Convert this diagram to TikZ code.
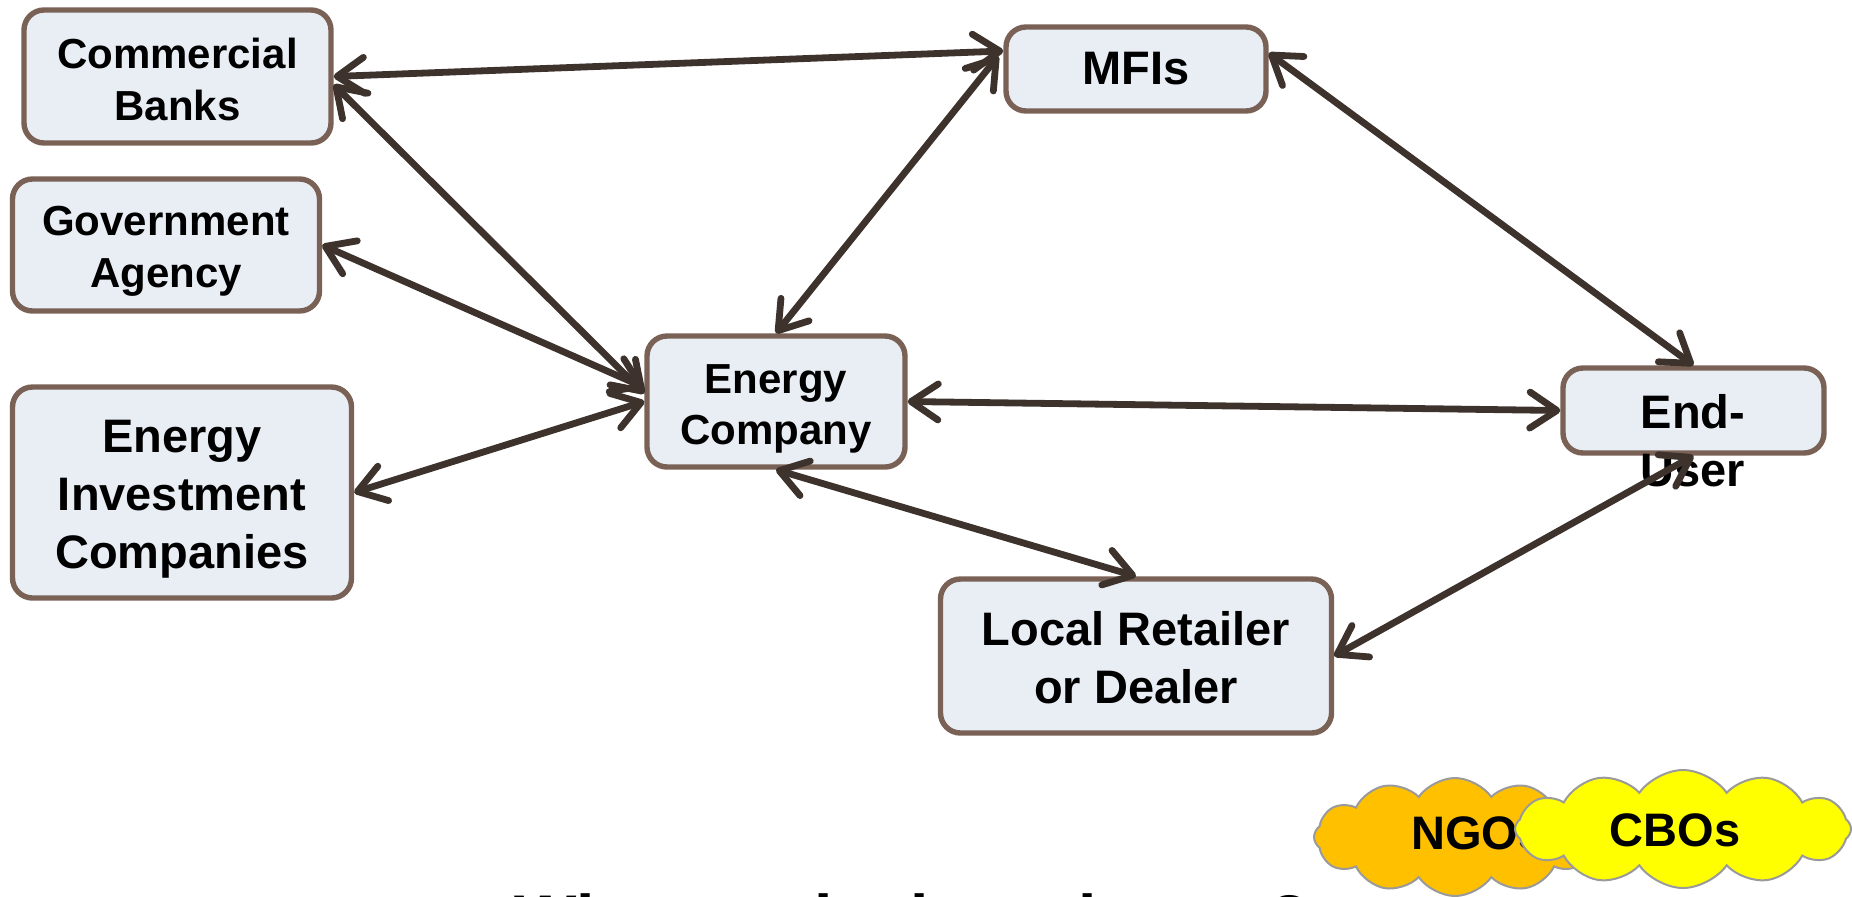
\documentclass[tikz,border=0pt]{standalone}
\usepackage{fontspec}
\setmainfont{Liberation Sans}
\usetikzlibrary{arrows.meta,shapes.symbols}
\definecolor{boxline}{HTML}{7A6156}
\definecolor{boxfill}{HTML}{E9EEF5}
\definecolor{linkcol}{HTML}{3D322C}
\definecolor{ngocol}{HTML}{FFC000}
\definecolor{cbocol}{HTML}{FFFF00}
\definecolor{cloudline}{HTML}{9A9A9A}
\newcommand\padtop[1]{\rule{0pt}{#1}}
\tikzset{
  box/.style={draw=boxline, fill=boxfill, line width=2.7pt, rounded corners=10pt,
    inner sep=0pt, align=center, text=black},
  smalltext/.style={font=\fontsize{21}{25.8}\selectfont\bfseries},
  largetext/.style={font=\fontsize{23.5}{29}\selectfont\bfseries},
  tipbarb/.tip={Straight Barb[length=13.5pt,width=18pt,round]},
  link/.style={draw=linkcol, line width=3.4pt, line cap=round, tipbarb-tipbarb},
  cloudbox/.style={cloud, cloud puffs=12, cloud puff arc=110, draw=cloudline,
    line width=1pt, inner sep=0pt},
  cloudtext/.style={font=\fontsize{23.5}{29}\selectfont\bfseries, inner sep=0pt},
}
\begin{document}
\begin{tikzpicture}[x=0.5pt,y=-0.5pt]
\useasboundingbox (0,0) rectangle (1852,896);
\clip (0,0) rectangle (1852,896);
% boxes
\node[box, smalltext, minimum width=153.5pt, minimum height=66.5pt] (cb) at (177.5,76.5) {\padtop{18pt}Commercial\\Banks};
\node[box, smalltext, minimum width=153.5pt, minimum height=66pt] (ga) at (166,245) {\padtop{21pt}Government\\Agency};
\node[box, largetext, minimum width=169.5pt, minimum height=105.5pt] (eic) at (182,492.5) {\padtop{23pt}Energy\\Investment\\Companies};
\node[box, smalltext, minimum width=129pt, minimum height=65.5pt] (ec) at (776,401.5) {\padtop{22pt}Energy\\Company};
\node[box, largetext, minimum width=130pt, minimum height=42pt] (mfi) at (1136,69) {MFIs};
\node[box, minimum width=130.5pt, minimum height=42.5pt] (eu) at (1693.5,410.5) {};
\node[largetext, align=center, inner sep=0pt] (eutext) at (1693,441) {End-\\User};
\node[box, largetext, minimum width=195.5pt, minimum height=77pt] (lrd) at (1136,656) {\padtop{19pt}Local Retailer\\or Dealer};
% connectors
\draw[link] (cb.east) -- ([yshift=9pt]mfi.west);
\draw[link] ([yshift=-4pt]cb.east) -- ([yshift=4pt]ec.west);
\draw[link] (ga.east) -- ([yshift=7pt]ec.west);
\draw[link] (eic.east) -- (ec.west);
\draw[link] (ec.north) -- ([xshift=-2.5pt,yshift=6.5pt]mfi.west);
\draw[link] ([yshift=8pt]mfi.east) -- (eu.north);
\draw[link] (ec.east) -- (eu.west);
\draw[link] (ec.south) -- (lrd.north);
\draw[link] (eu.south) -- (lrd.east);
% clouds
\node[cloudbox, fill=ngocol, aspect=2.4, minimum width=141pt, minimum height=59pt] (ngo) at (1455,837) {};
\node[cloudtext] (ngotext) at (1478,833) {NGOs};
\node[cloudbox, fill=cbocol, aspect=2.84, minimum width=168pt, minimum height=59pt] (cbo) at (1683,829) {};
\node[cloudtext] (cbotext) at (1675,830) {CBOs};
% cut-off question
\node[font=\fontsize{33}{40}\selectfont\bfseries, anchor=base, inner sep=0pt] (question) at (912,941) {Who are the key players?};
\end{tikzpicture}
\end{document}
